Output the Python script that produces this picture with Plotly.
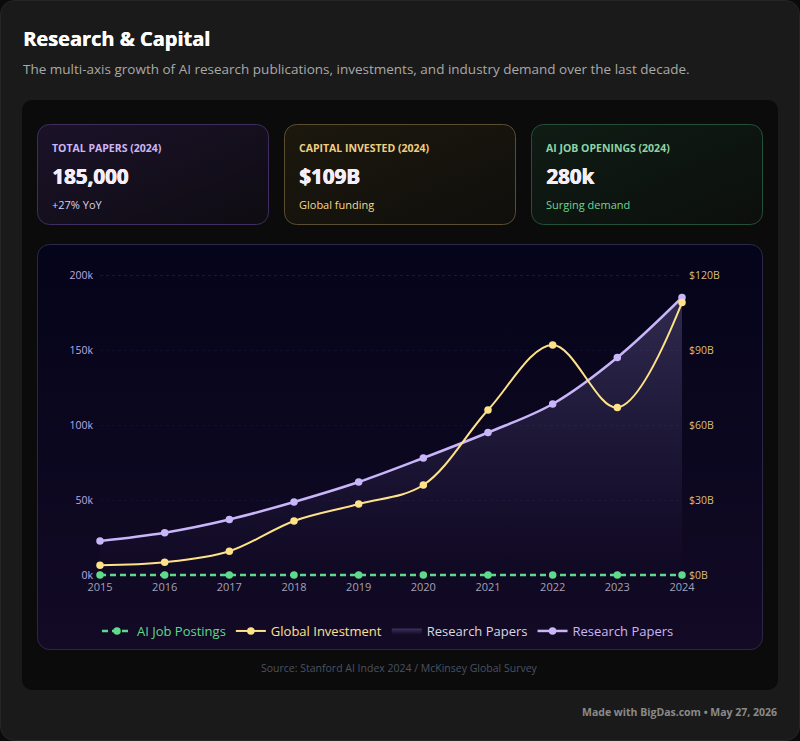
import base64
import plotly.graph_objects as go

# ---------------- data ----------------
years = [2015, 2016, 2017, 2018, 2019, 2020, 2021, 2022, 2023, 2024]
research_papers = [22700, 28200, 37000, 48700, 62000, 78000, 95000, 114000, 145000, 185000]
investment_b = [3.9, 5.1, 9.5, 21.6, 28.4, 36.0, 66.0, 92.0, 67.0, 109.0]
job_postings = [0, 0, 0, 0, 0, 0, 0, 0, 0, 0]  # drawn flat at the baseline in the reference

papers_ticks = [0, 50000, 100000, 150000, 200000]
papers_ticktext = ["0k", "50k", "100k", "150k", "200k"]
invest_ticks = [0, 30, 60, 90, 120]
invest_ticktext = ["$0B", "$30B", "$60B", "$90B", "$120B"]

kpi_labels = ["TOTAL PAPERS (2024)", "CAPITAL INVESTED (2024)", "AI JOB OPENINGS (2024)"]
kpi_values = ["185,000", "$109B", "280k"]
kpi_subs = ["+27% YoY", "Global funding", "Surging demand"]

# ---------------- geometry helpers ----------------
W, H = 800, 741
PL, PR, PT = 100, 682, 275
ZERO = 575          # pixel row of the value 0
PAD = 4             # extra px below zero so the baseline line is not clipped
PB = ZERO + PAD
PW, PH = PR - PL, PB - PT
LEFT_MAX, RIGHT_MAX = 200000, 120
left_pad = LEFT_MAX * PAD / (ZERO - PT)
right_pad = RIGHT_MAX * PAD / (ZERO - PT)


def px(x):
    return (x - PL) / PW


def py(y):
    return (PB - y) / PH


PURPLE = "#c9b6fa"
YELLOW = "#fde28a"
GREEN = "#5fd98b"
FONT = "Open Sans"

# ---------------- background decor (svg) ----------------
svg = f'''<svg xmlns="http://www.w3.org/2000/svg" width="{W}" height="{H}" viewBox="0 0 {W} {H}">
<defs>
<linearGradient id="cg" x1="0" y1="0" x2="0" y2="1"><stop offset="0" stop-color="#04041a"/><stop offset="1" stop-color="#130a25"/></linearGradient>
<linearGradient id="k1" x1="0" y1="0" x2="1" y2="1"><stop offset="0" stop-color="#1b1229"/><stop offset="1" stop-color="#0e0c12"/></linearGradient>
<linearGradient id="k2" x1="0" y1="0" x2="1" y2="1"><stop offset="0" stop-color="#1c180e"/><stop offset="1" stop-color="#100f0c"/></linearGradient>
<linearGradient id="k3" x1="0" y1="0" x2="1" y2="1"><stop offset="0" stop-color="#0f1c14"/><stop offset="1" stop-color="#0c0f0d"/></linearGradient>
</defs>
<rect width="{W}" height="{H}" fill="#0b0b0b"/>
<rect x="0.5" y="0.5" width="799" height="740" rx="14" fill="#1a1a1a" stroke="#262626"/>
<rect x="22" y="100" width="756" height="590" rx="10" fill="#0b0b0b"/>
<rect x="37.5" y="124.5" width="231" height="100" rx="12" fill="url(#k1)" stroke="#3f2d60"/>
<rect x="284.5" y="124.5" width="231" height="100" rx="12" fill="url(#k2)" stroke="#5a4d30"/>
<rect x="531.5" y="124.5" width="231" height="100" rx="12" fill="url(#k3)" stroke="#23503a"/>
<rect x="37.5" y="244.5" width="725" height="405" rx="12" fill="url(#cg)" stroke="#2c2748"/>
</svg>'''
svg_uri = "data:image/svg+xml;base64," + base64.b64encode(svg.encode()).decode()

fig = go.Figure()

# area fill under research papers
fig.add_trace(go.Scatter(
    x=years, y=research_papers, mode="lines", name='<span style="color:#d8d8e0">Research Papers</span>',
    line=dict(color="rgba(60,50,100,0.9)", width=1, shape="spline"),
    fill="tozeroy",
    fillgradient=dict(type="vertical",
                      colorscale=[[0, "rgba(150,130,220,0.0)"], [1, "rgba(180,160,240,0.24)"]]),
    legendrank=3, yaxis="y", cliponaxis=False, hoverinfo="skip",
))

fig.add_trace(go.Scatter(
    x=years, y=research_papers, mode="lines+markers", name=f'<span style="color:{PURPLE}">Research Papers</span>',
    line=dict(color=PURPLE, width=2.5, shape="spline"),
    marker=dict(color=PURPLE, size=7.5),
    legendrank=4, yaxis="y", cliponaxis=False,
))

fig.add_trace(go.Scatter(
    x=years, y=investment_b, mode="lines+markers", name=f'<span style="color:{YELLOW}">Global Investment</span>',
    line=dict(color=YELLOW, width=2, shape="spline"),
    marker=dict(color=YELLOW, size=7.5),
    legendrank=2, yaxis="y2", cliponaxis=False,
))

fig.add_trace(go.Scatter(
    x=years, y=job_postings, mode="lines+markers", name=f'<span style="color:{GREEN}">AI Job Postings</span>',
    line=dict(color=GREEN, width=2.5, dash="6px,4px"),
    marker=dict(color=GREEN, size=7.5),
    legendrank=1, yaxis="y", cliponaxis=False,
))

annotations = []


def text(x, y, s, size, color, bold=False, anchor="left", family=FONT, shadow=None):
    f = dict(size=size, color=color, family=family)
    if shadow:
        f["shadow"] = shadow
    annotations.append(dict(
        x=px(x), y=py(y), xref="paper", yref="paper", showarrow=False,
        text=f"<b>{s}</b>" if bold else s, xanchor=anchor, yanchor="middle",
        font=f,
    ))


text(21, 39, "Research &amp; Capital", 20, "#ffffff", bold=True, shadow="0.4px 0 0 #ffffff")
text(21, 69, "The multi-axis growth of AI research publications, investments, and industry demand over the last decade.",
     13.5, "#a9a9a9")

card_x = [50, 297, 544]
label_cols = ["#cdb6f7", "#eecf82", "#8fd3a6"]
sub_cols = ["#d8cff0", "#f3d98e", "#6fd492"]
for cx, lab, val, sub, lc, sc in zip(card_x, kpi_labels, kpi_values, kpi_subs, label_cols, sub_cols):
    text(cx, 148, lab, 10.5, lc, bold=True)
    text(cx, 176, val, 20.5, "#f3eefa", bold=True,
         shadow="0.8px 0 0 #f3eefa, 0.4px 0.3px 0 #f3eefa")
    text(cx, 204, sub, 11, sc)

text(400, 668, "Source: Stanford AI Index 2024 / McKinsey Global Survey", 10.5, "#4a5263", anchor="center")
text(779, 712, "Made with BigDas.com • May 27, 2026", 10.5, "#8a8a8a", bold=True, anchor="right")

fig.update_layout(
    width=W, height=H,
    margin=dict(l=PL, r=W - PR, t=PT, b=H - PB, pad=0),
    paper_bgcolor="#0b0b0b", plot_bgcolor="rgba(0,0,0,0)",
    font=dict(family=FONT, color="#cccccc"),
    showlegend=True,
    legend=dict(orientation="h", xref="container", yref="container",
                x=388 / W, y=1 - 631 / H, xanchor="center", yanchor="middle",
                bgcolor="rgba(0,0,0,0)", font=dict(size=13, family=FONT), itemwidth=30,
                tracegroupgap=0),
    xaxis=dict(range=[2015, 2024], tickvals=years, ticktext=[str(y) for y in years],
               showgrid=False, zeroline=False, showline=False, ticks="",
               tickfont=dict(size=11, color="#a3a1b8"), ticklabelstandoff=0),
    yaxis=dict(range=[-left_pad, LEFT_MAX], tickvals=papers_ticks, ticktext=papers_ticktext,
               showgrid=True, gridcolor="rgba(90,80,170,0.10)", griddash="dot", zeroline=False,
               ticks="", tickfont=dict(size=10.5, color="#bba9ea"), ticklabelstandoff=6),
    yaxis2=dict(range=[-right_pad, RIGHT_MAX], tickvals=invest_ticks, ticktext=invest_ticktext,
                overlaying="y", side="right",
                showgrid=False, zeroline=False, ticks="", tickfont=dict(size=10.5, color="#d8bf78"),
                ticklabelstandoff=6),
    shapes=[dict(type="line", xref="paper", yref="y", x0=0, x1=1, y0=LEFT_MAX, y1=LEFT_MAX,
                 line=dict(color="rgba(80,70,160,0.55)", width=1.2, dash="dot"), layer="below")],
    images=[dict(source=svg_uri, xref="paper", yref="paper", x=px(0), y=py(0),
                 sizex=W / PW, sizey=H / PH, xanchor="left", yanchor="top",
                 sizing="stretch", layer="below")],
    annotations=annotations,
)

fig.write_html("out.html")
